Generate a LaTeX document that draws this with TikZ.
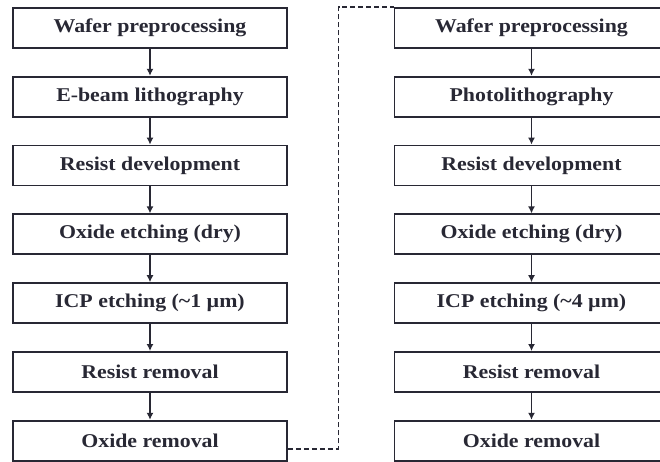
\documentclass[tikz,border=0pt]{standalone}
\usepackage{fontspec}
\setmainfont{Liberation Serif}[FakeStretch=1.12]
\usetikzlibrary{positioning,arrows.meta}
\definecolor{inkgray}{RGB}{40,40,52}
\tikzset{
  stepbox/.style={draw=inkgray, line width=1.8pt, minimum width=274pt, minimum height=40pt,
    inner sep=0pt, font=\fontsize{19.5}{22}\selectfont\bfseries, text=inkgray},
  flow/.style={draw=inkgray, line width=1.3pt, -{Latex[length=7pt,width=7pt]}},
  link/.style={draw=inkgray, line width=1.6pt, dash pattern=on 5pt off 3pt}
}
\begin{document}
\begin{tikzpicture}[x=1pt,y=1pt,node distance=27pt]
\clip (0,0) rectangle (660,-462);
% e-beam route
\node[stepbox] (l1) at (150,-27.9) {Wafer preprocessing};
\node[stepbox, below=of l1] (l2) {E-beam lithography};
\node[stepbox, below=of l2] (l3) {Resist development};
\node[stepbox, below=of l3] (l4) {Oxide etching (dry)};
\node[stepbox, below=of l4] (l5) {ICP etching (\textasciitilde1 µm)};
\node[stepbox, below=of l5] (l6) {Resist removal};
\node[stepbox, below=of l6] (l7) {Oxide removal};
% photolithography route
\node[stepbox] (r1) at (531.5,-27.9) {Wafer preprocessing};
\node[stepbox, below=of r1] (r2) {Photolithography};
\node[stepbox, below=of r2] (r3) {Resist development};
\node[stepbox, below=of r3] (r4) {Oxide etching (dry)};
\node[stepbox, below=of r4] (r5) {ICP etching (\textasciitilde4 µm)};
\node[stepbox, below=of r5] (r6) {Resist removal};
\node[stepbox, below=of r6] (r7) {Oxide removal};
% arrows
\draw[flow] (l1) -- (l2);
\draw[flow] (l2) -- (l3);
\draw[flow] (l3) -- (l4);
\draw[flow] (l4) -- (l5);
\draw[flow] (l5) -- (l6);
\draw[flow] (l6) -- (l7);
\draw[flow] (r1) -- (r2);
\draw[flow] (r2) -- (r3);
\draw[flow] (r3) -- (r4);
\draw[flow] (r4) -- (r5);
\draw[flow] (r5) -- (r6);
\draw[flow] (r6) -- (r7);
% link between routes
\draw[link] ([yshift=-8pt]l7.east) -| ([xshift=-55pt]r1.north west) -- (r1.north west);
\end{tikzpicture}
\end{document}
